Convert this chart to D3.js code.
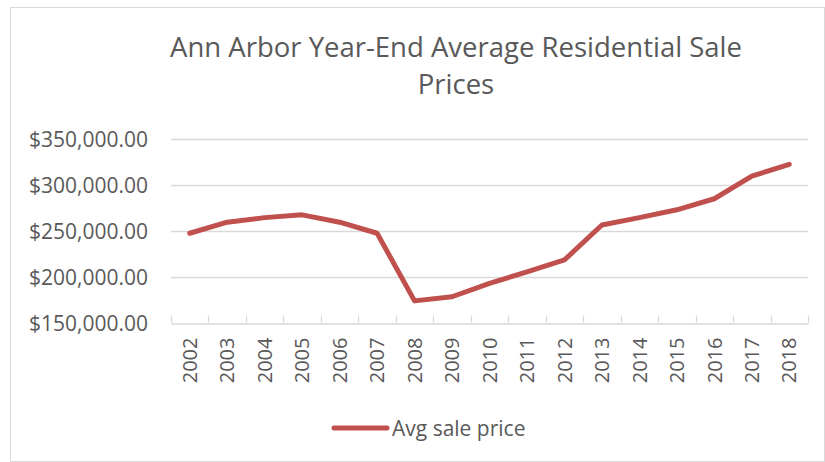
<!DOCTYPE html>
<html>
<head>
<meta charset="utf-8">
<script src="https://cdn.jsdelivr.net/npm/d3@7"></script>
<style>
  body { margin: 0; background: #fff; }
  text { font-family: "Open Sans", sans-serif; fill: #595959; }
</style>
</head>
<body>
<div id="chart"></div>
<script>
// data
const years = ["2002", "2003", "2004", "2005", "2006", "2007", "2008", "2009", "2010",
  "2011", "2012", "2013", "2014", "2015", "2016", "2017", "2018"];
const avgSalePrice = [247000, 259000, 264000, 267000, 259000, 247000, 173500, 178000, 192500,
  205000, 218000, 256000, 264000, 272500, 284500, 309000, 322000];
const yTicks = [150000, 200000, 250000, 300000, 350000];
const titleLines = ["Ann Arbor Year-End Average Residential Sale", "Prices"];
const seriesName = "Avg sale price";

const width = 825, height = 462;
const margin = { top: 138.5, right: 17, bottom: 139.5, left: 171 };
const color = "#c0504d";

const svg = d3.select("#chart").append("svg")
  .attr("width", width)
  .attr("height", height);

// chart frame
svg.append("rect")
  .attr("x", 10.5).attr("y", 7.5)
  .attr("width", width - 11).attr("height", height - 8)
  .attr("fill", "none")
  .attr("stroke", "#d9d9d9");

// title
svg.append("g").selectAll("text")
  .data(titleLines)
  .enter().append("text")
  .attr("x", 456)
  .attr("y", (d, i) => 57 + i * 37)
  .attr("text-anchor", "middle")
  .style("font-size", "27.5px")
  .text(d => d);

const x = d3.scaleBand()
  .domain(years)
  .range([margin.left, width - margin.right]);

const y = d3.scaleLinear()
  .domain([150000, 350000])
  .range([height - margin.bottom, margin.top]);

// gridlines
svg.append("g").selectAll("line")
  .data(yTicks.slice(1))
  .enter().append("line")
  .attr("x1", margin.left).attr("x2", width - margin.right)
  .attr("y1", d => Math.round(y(d)) + 0.5).attr("y2", d => Math.round(y(d)) + 0.5)
  .attr("stroke", "#d9d9d9")
  .attr("stroke-width", 1.3);

// y axis labels
const yAxis = svg.append("g")
  .attr("transform", `translate(${margin.left},0)`)
  .call(d3.axisLeft(y).tickValues(yTicks).tickSize(0).tickPadding(23)
    .tickFormat(d => "$" + d3.format(",.2f")(d)));
yAxis.select(".domain").remove();
yAxis.selectAll("text")
  .style("font-size", "21px")
  .attr("fill", "#595959")
  .attr("dy", "0.36em");

// x axis
const xAxis = svg.append("g")
  .attr("transform", `translate(0,${Math.round(y(150000)) + 0.5})`)
  .call(d3.axisBottom(x).tickSize(0));
xAxis.select(".domain")
  .attr("stroke", "#d9d9d9")
  .attr("stroke-width", 1.3);
xAxis.selectAll("text")
  .style("font-size", "20px")
  .attr("fill", "#595959")
  .attr("text-anchor", "end")
  .attr("transform", "rotate(-90)")
  .attr("x", -14)
  .attr("y", 0)
  .attr("dx", 0)
  .attr("dy", "0.36em");

// category boundary ticks
svg.append("g").selectAll("line")
  .data(years.map(d => x(d)).concat([width - margin.right]))
  .enter().append("line")
  .attr("x1", d => Math.round(d) + 0.5).attr("x2", d => Math.round(d) + 0.5)
  .attr("y1", y(150000)).attr("y2", y(150000) - 7)
  .attr("stroke", "#d9d9d9")
  .attr("stroke-width", 1.3);

// series line
const line = d3.line()
  .x((d, i) => x(years[i]) + x.bandwidth() / 2)
  .y(d => y(d));

svg.append("path")
  .datum(avgSalePrice)
  .attr("d", line)
  .attr("fill", "none")
  .attr("stroke", color)
  .attr("stroke-width", 5)
  .attr("stroke-linejoin", "round")
  .attr("stroke-linecap", "round");

// legend
const legend = svg.append("g");
legend.append("line")
  .attr("x1", 334).attr("x2", 387)
  .attr("y1", 428).attr("y2", 428)
  .attr("stroke", color)
  .attr("stroke-width", 5)
  .attr("stroke-linecap", "round");
legend.append("text")
  .attr("x", 392)
  .attr("y", 428)
  .attr("dy", "0.36em")
  .style("font-size", "21px")
  .text(seriesName);
</script>
</body>
</html>
